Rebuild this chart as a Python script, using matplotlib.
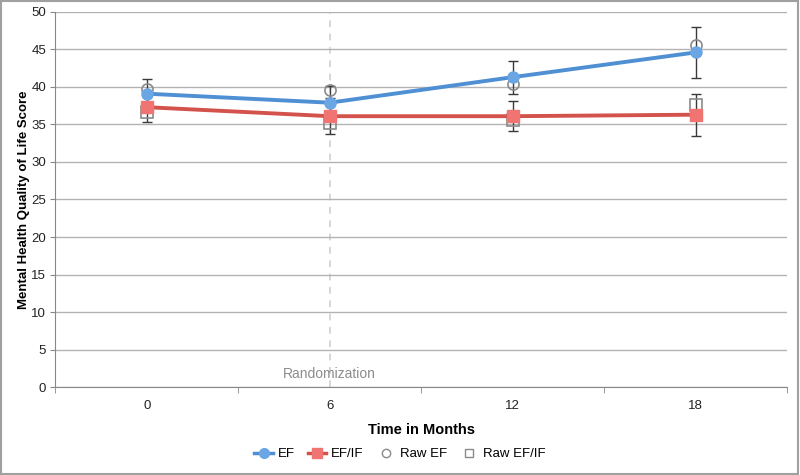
import matplotlib.pyplot as plt
import numpy as np
from matplotlib.lines import Line2D
from matplotlib.patches import Rectangle

# ---- data ----
months = ['0', '6', '12', '18']
ef = [39.1, 37.9, 41.3, 44.6]
ef_err = [2.0, 2.2, 2.2, 3.4]
efif = [37.3, 36.1, 36.1, 36.3]
efif_err = [2.0, 2.4, 2.0, 2.8]
raw_ef = [39.7, 39.6, 40.4, 45.6]
raw_efif = [36.6, 35.2, 35.6, 37.6]
rand_month = '6'

BLUE_LINE = '#4f8fd3'
BLUE_MARK = '#6aa6e4'
RED_LINE = '#d4524c'
RED_MARK = '#f07572'
GRAY = '#8a8a8a'
FONT = ['Liberation Sans', 'DejaVu Sans']

fig = plt.figure(figsize=(8, 4.75), dpi=100)
ax = fig.add_axes([0.069, 0.185, 0.915, 0.79])
x = np.arange(len(months))

# gridlines + randomization marker
ax.set_ylim(0, 50)
ax.set_yticks(np.arange(0, 51, 5))
ax.grid(True, axis='y', color='#b3b3b3', lw=1.0, zorder=0)
rx = months.index(rand_month)
ax.axvline(rx, color='#cfcfcf', lw=1.2, ls=(0, (4, 4)), zorder=1)
ax.text(rx, 0.8, 'Randomization', ha='center', va='bottom', color='#8c8c8c',
        fontsize=10, family=FONT)

# error bars
ax.errorbar(x, ef, yerr=ef_err, fmt='none', ecolor='#3a3a3a', elinewidth=1.0,
            capsize=3.5, capthick=1.0, zorder=2)
ax.errorbar(x, efif, yerr=efif_err, fmt='none', ecolor='#3a3a3a', elinewidth=1.0,
            capsize=3.5, capthick=1.0, zorder=2)

# raw values
ax.plot(x, raw_ef, ls='none', marker='o', ms=8, mfc='none', mec=GRAY, mew=1.2, zorder=3)
ax.plot(x, raw_efif, ls='none', marker='s', ms=8, mfc='none', mec=GRAY, mew=1.2, zorder=3)

# model lines
ax.plot(x, ef, color=BLUE_LINE, lw=2.8, marker='o', ms=8, mfc=BLUE_MARK, mec=BLUE_MARK, zorder=4)
ax.plot(x, efif, color=RED_LINE, lw=2.8, marker='s', ms=8, mfc=RED_MARK, mec=RED_MARK, zorder=4)

ax.set_xlim(-0.5, len(months) - 0.5)
ax.set_xticks(x)
ax.set_xticklabels(months)
ax.set_xticks(np.arange(-0.5, len(months), 1), minor=True)
ax.tick_params(axis='x', which='major', length=0, pad=9)
ax.tick_params(axis='x', which='minor', length=4, color='#888888')
ax.tick_params(axis='y', length=3.5, color='#888888', pad=3)
for lab in ax.get_xticklabels() + ax.get_yticklabels():
    lab.set_family(FONT)
    lab.set_fontsize(9.5)
    lab.set_color('#222222')

for s in ['top', 'right']:
    ax.spines[s].set_visible(False)
for s in ['left', 'bottom']:
    ax.spines[s].set_color('#888888')

ax.set_ylabel('Mental Health Quality of Life Score', fontsize=9.5, fontweight='bold', family=FONT)
ax.yaxis.set_label_coords(-0.034, 0.5)
ax.set_xlabel('Time in Months', fontsize=10.5, fontweight='bold', family=FONT)
ax.xaxis.set_label_coords(0.5, -0.096)

handles = [
    Line2D([], [], color=BLUE_LINE, lw=2.5, marker='o', ms=7, mfc=BLUE_MARK, mec=BLUE_MARK),
    Line2D([], [], color=RED_LINE, lw=2.5, marker='s', ms=7, mfc=RED_MARK, mec=RED_MARK),
    Line2D([], [], ls='none', marker='o', ms=6, mfc='none', mec=GRAY),
    Line2D([], [], ls='none', marker='s', ms=6, mfc='none', mec=GRAY),
]
fig.legend(handles, ['EF', 'EF/IF', 'Raw EF', 'Raw EF/IF'], loc='center',
           bbox_to_anchor=(0.5, 0.044), ncol=4, frameon=False, handlelength=1.4,
           handletextpad=0.35, columnspacing=1.0, prop={'family': FONT, 'size': 9.5})

fig.add_artist(Rectangle((0.001, 0.002), 0.997, 0.995, transform=fig.transFigure,
                         fill=False, edgecolor='#a0a0a0', lw=1.5))

fig.savefig('out.png', dpi=100)
